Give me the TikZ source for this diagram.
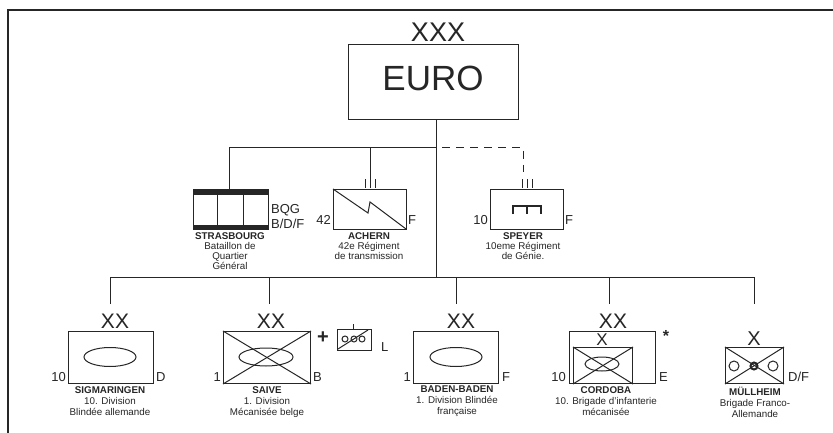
\documentclass[tikz,border=0pt]{standalone}
\usepackage{fontspec}
\setmainfont{Liberation Sans}
\usepackage{xcolor}
\usetikzlibrary{shapes.geometric}
\definecolor{inkline}{gray}{0.15}
\tikzset{
    unitbox/.style={draw=inkline, line width=1pt, fill=white},
    trunk/.style={draw=inkline, line width=1pt},
    echelon/.style={font=\fontsize{21}{21}\selectfont, inner sep=0pt, text=inkline},
    side/.style={font=\fontsize{13}{13}\selectfont, inner sep=0pt, text=inkline},
    caption/.style={font=\fontsize{9.8}{11}\selectfont, inner sep=0pt, align=center, anchor=north, text=inkline},
    captiontop/.style={caption, font=\fontsize{9.8}{10}\selectfont}
}
\newcommand{\crossbox}[1]{
    \draw[trunk] (#1.north west) -- (#1.south east);
    \draw[trunk] (#1.south west) -- (#1.north east);
    }
\newcommand{\threeticks}[2]{
    \draw[trunk] (#1-5, #2) -- (#1-5, #2-9);
    \draw[trunk] (#1, #2) -- (#1, #2-9);
    \draw[trunk] (#1+5, #2) -- (#1+5, #2-9);
    }
\begin{document}
\begin{tikzpicture}[x=1pt, y=-1pt]
    \useasboundingbox (0, 0) rectangle (833, 433);
    \fill[white] (0, 0) rectangle (833, 433);
    % frame, open at the bottom and on the right
    \draw[inkline, line width=1.2pt] (8, 433) -- (8, 10) -- (833, 10);

    \node[unitbox, anchor=north west, minimum width=170pt, minimum height=75pt] (euro) at (348, 44) {};
    \node[font=\fontsize{35}{35}\selectfont, inner sep=0pt, text=inkline] (eurotext) at (433, 78) {EURO};
    \node[echelon, font=\fontsize{27}{27}\selectfont] (euroxxx) at (438, 32) {XXX};

    % top row of units
    \node[unitbox, anchor=north west, minimum width=75pt, minimum height=40pt] (strasbourg) at (193, 189) {};
    \fill[inkline] (193, 189) rectangle (268, 195);
    \fill[inkline] (193, 225) rectangle (268, 229);
    \draw[trunk] (217, 189) -- (217, 229);
    \draw[trunk] (243, 189) -- (243, 229);
    \node[side, anchor=west] (bqg) at (271, 210) {BQG};
    \node[side, anchor=west] (bdf) at (271, 224) {B/D/F};
    \node[captiontop] (strasbourgtext) at (230, 232) {\textbf{STRASBOURG}\\Bataillon de\\Quartier\\Général};

    \node[unitbox, anchor=north west, minimum width=73pt, minimum height=40pt] (achern) at (333, 189) {};
    \draw[trunk] (333, 189) -- (368, 213) -- (370, 202) -- (406, 229);
    \node[side, anchor=east] (achernnum) at (331, 220) {42};
    \node[side, anchor=west] (achernnat) at (408, 220) {F};
    \node[captiontop] (acherntext) at (369, 232) {\textbf{ACHERN}\\42e Régiment\\de transmission};
    \threeticks{370}{188}

    \node[unitbox, anchor=north west, minimum width=73pt, minimum height=40pt] (speyer) at (490, 189) {};
    \draw[trunk, line width=1.6pt] (513, 214) -- (513, 206) -- (541, 206) -- (541, 214);
    \draw[trunk, line width=1.6pt] (527, 206) -- (527, 214);
    \node[side, anchor=east] (speyernum) at (488, 220) {10};
    \node[side, anchor=west] (speyernat) at (565, 220) {F};
    \node[captiontop] (speyertext) at (523, 232) {\textbf{SPEYER}\\10eme Régiment\\de Génie.};
    \threeticks{527}{188}

    % bottom row of units
    \node[unitbox, anchor=north west, minimum width=85pt, minimum height=52pt] (sigmaringen) at (68, 331) {};
    \draw[trunk] (110, 357) ellipse (26 and 9.5);
    \node[echelon] (sigmaringenxx) at (115, 321) {XX};
    \node[side, anchor=east] (sigmaringennum) at (66, 377) {10};
    \node[side, anchor=west] (sigmaringennat) at (156, 377) {D};
    \node[caption] (sigmaringentext) at (110, 386) {\textbf{SIGMARINGEN}\\10. Division\\Blindée allemande};

    \node[unitbox, anchor=north west, minimum width=87pt, minimum height=52pt] (saive) at (223, 331) {};
    \crossbox{saive}
    \draw[trunk] (266, 357) ellipse (27 and 9);
    \node[echelon] (saivexx) at (271, 321) {XX};
    \node[side, anchor=east] (saivenum) at (221, 377) {1};
    \node[side, anchor=west] (saivenat) at (313, 377) {B};
    \node[caption] (saivetext) at (267, 386) {\textbf{SAIVE}\\1. Division\\Mécanisée belge};
    \node[font=\fontsize{20}{20}\bfseries\selectfont, inner sep=0pt, text=inkline] (plus) at (323, 338) {+};
    \node[unitbox, anchor=north west, minimum width=34pt, minimum height=21pt] (light) at (337, 329) {};
    \draw[trunk] (338, 349) -- (368, 330);
    \foreach \cx in {345, 354, 362} {
        \draw[trunk] (\cx, 339) circle (3);
    }
    \draw[trunk] (353, 329) -- (353, 324);
    \node[side, anchor=west] (lightnat) at (381, 347) {L};

    \node[unitbox, anchor=north west, minimum width=85pt, minimum height=52pt] (baden) at (413, 331) {};
    \draw[trunk] (456, 357) ellipse (26 and 9.5);
    \node[echelon] (badenxx) at (461, 321) {XX};
    \node[side, anchor=east] (badennum) at (411, 377) {1};
    \node[side, anchor=west] (badennat) at (502, 377) {F};
    \node[caption] (badentext) at (457, 386) {\textbf{BADEN-BADEN}\\1. Division Blindée\\française};

    \node[unitbox, anchor=north west, minimum width=86pt, minimum height=52pt] (cordoba) at (569, 331) {};
    \node[unitbox, anchor=north west, minimum width=59pt, minimum height=36pt] (cordobabrig) at (573, 347) {};
    \crossbox{cordobabrig}
    \draw[trunk] (602, 364) ellipse (17 and 7);
    \node[echelon] (cordobaxx) at (613, 321) {XX};
    \node[echelon, font=\fontsize{17}{17}\selectfont] (cordobax) at (602, 339.5) {X};
    \node[side, font=\fontsize{16}{16}\bfseries\selectfont] (cordobastar) at (666, 336) {*};
    \node[side, anchor=east] (cordobanum) at (566, 377) {10};
    \node[side, anchor=west] (cordobanat) at (659, 377) {E};
    \node[caption] (cordobatext) at (606, 386) {\textbf{CORDOBA}\\10. Brigade d'infanterie\\mécanisée};

    \node[unitbox, anchor=north west, minimum width=58pt, minimum height=36pt] (mullheim) at (725, 347) {};
    \crossbox{mullheim}
    \foreach \cx in {734, 773} {
        \draw[trunk] (\cx, 366) circle (5);
    }
    \draw[trunk, line width=2pt] (754, 366) circle (3.5);
    \node[echelon, font=\fontsize{20}{20}\selectfont] (mullheimx) at (754, 339) {X};
    \node[side, anchor=west] (mullheimnat) at (788, 377) {D/F};
    \node[caption] (mullheimtext) at (755, 387) {\textbf{MÜLLHEIM}\\Brigade Franco-\\Allemande};

    % connectors
    \coordinate (upperbus) at (436, 148);
    \coordinate (lowerbus) at (436, 277);
    \coordinate (strasbourgtop) at (229, 189);
    \coordinate (acherntop) at (370, 179);
    \coordinate (speyertop) at (523, 172);
    \coordinate (sigmaringentop) at (110, 304);
    \coordinate (saivetop) at (269, 304);
    \coordinate (badentop) at (456, 304);
    \coordinate (cordobatop) at (609, 304);
    \coordinate (mullheimtop) at (754, 304);
    \draw[trunk] (euro.south -| upperbus) -- (lowerbus);
    \draw[trunk] (upperbus) -- (strasbourgtop |- upperbus) -- (strasbourgtop);
    \draw[trunk] (acherntop |- upperbus) -- (acherntop);
    \draw[trunk, dash pattern=on 8pt off 6pt, dash phase=8pt] (upperbus) -- (speyertop |- upperbus) -- (speyertop);
    \draw[trunk] (sigmaringentop) -- (sigmaringentop |- lowerbus) -- (mullheimtop |- lowerbus) -- (mullheimtop);
    \draw[trunk] (saivetop |- lowerbus) -- (saivetop);
    \draw[trunk] (badentop |- lowerbus) -- (badentop);
    \draw[trunk] (cordobatop |- lowerbus) -- (cordobatop);
\end{tikzpicture}
\end{document}
